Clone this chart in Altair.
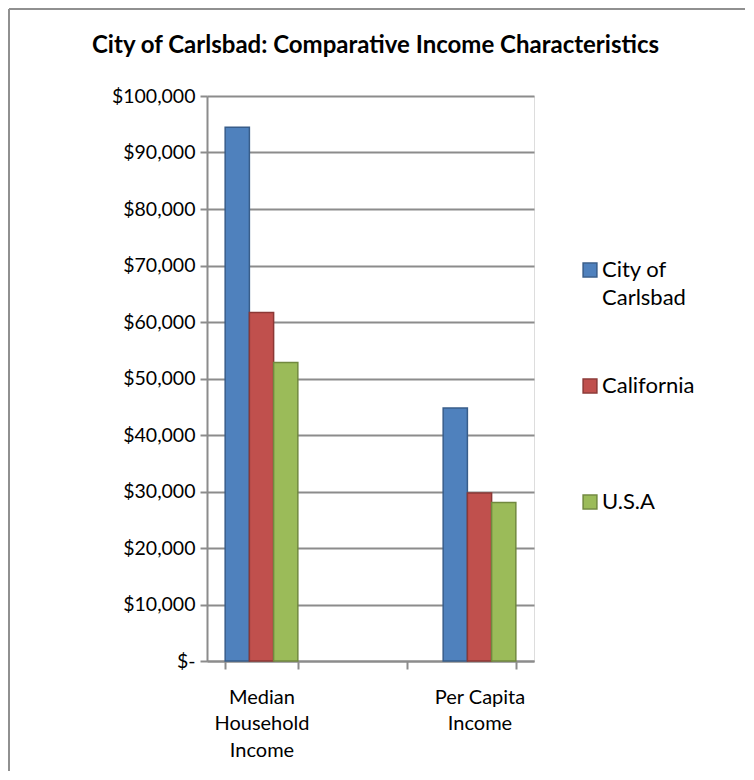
import altair as alt
import pandas as pd

# ---- data ----
title_text = "City of Carlsbad: Comparative Income Characteristics"
categories = ["Median|Household|Income", "Per Capita|Income"]
gap_category = " "
series = ["City of|Carlsbad", "California", "U.S.A"]
median_household = [94460, 61660, 52820]
per_capita = [44780, 29730, 28040]
fill_colors = ["#4f81bd", "#c0504d", "#9bbb59"]
edge_colors = ["#385d8a", "#8c3836", "#71893f"]
y_ticks = [0, 10000, 20000, 30000, 40000, 50000, 60000, 70000, 80000, 90000, 100000]

rows = []
for s, a, b in zip(series, median_household, per_capita):
    rows.append({"category": categories[0], "series": s, "value": a})
    rows.append({"category": categories[1], "series": s, "value": b})
df = pd.DataFrame(rows)

x_domain = [categories[0], gap_category, categories[1]]
FONT = "Lato"
GRAY = "#8c8c8c"

legend_spec = alt.Legend(
    title=None, orient="none", legendX=372, legendY=163,
    symbolType="square", symbolSize=190, symbolStrokeWidth=1.5,
    labelFont=FONT, labelFontSize=22, labelColor="black",
    labelOffset=1, labelLimit=300, labelBaseline="middle",
    labelExpr="split(datum.label, '|')", rowPadding=66, gridAlign="all",
)

bars = alt.Chart(df).mark_bar(strokeWidth=1.5).encode(
    x=alt.X("category:N",
            scale=alt.Scale(domain=x_domain, paddingInner=1/3, paddingOuter=1/6),
            axis=alt.Axis(title=None, labelAngle=0, labelExpr="split(datum.label, '|')",
                          tickBand="extent", grid=False, tickSize=8, tickWidth=2,
                          tickColor=GRAY, domainColor=GRAY, domainWidth=2,
                          labelFont=FONT, labelFontSize=20, labelColor="black",
                          labelPadding=18, labelBaseline="top", labelLineHeight=26.5)),
    xOffset=alt.XOffset("series:N", scale=alt.Scale(domain=series)),
    y=alt.Y("value:Q", scale=alt.Scale(domain=[0, 100000]),
            axis=alt.Axis(title=None, values=y_ticks,
                          labelExpr="datum.value == 0 ? '$-' : '$' + format(datum.value, ',')",
                          grid=True, gridColor=GRAY, gridWidth=2,
                          tickSize=7, tickWidth=2, tickColor=GRAY,
                          domainColor=GRAY, domainWidth=2,
                          labelFont=FONT, labelFontSize=19.5, labelColor="black",
                          labelPadding=5)),
    fill=alt.Fill("series:N", scale=alt.Scale(domain=series, range=fill_colors), legend=legend_spec),
    stroke=alt.Stroke("series:N", scale=alt.Scale(domain=series, range=edge_colors), legend=legend_spec),
)

frame_data = alt.Data(values=[{"f": 1}])
left_edge = alt.Chart(frame_data).mark_rule(color="#909090", strokeWidth=2).encode(
    x=alt.value(-198), y=alt.value(-87), y2=alt.value(675))
top_edge = alt.Chart(frame_data).mark_rule(color="#909090", strokeWidth=2).encode(
    x=alt.value(-198), x2=alt.value(538), y=alt.value(-87))

chart = alt.layer(bars, left_edge, top_edge).properties(
    width=327, height=565, padding=0,
    title=alt.TitleParams(text=title_text, font=FONT, fontSize=24, fontWeight="bold",
                          color="black", anchor="middle", baseline="alphabetic",
                          offset=-69, dx=5),
).configure_view(fill="#e6e6e6", stroke=None).configure(
    background="white", style={"guide-label": {"lineHeight": 28}})

chart.save("out.html", embed_options={"renderer": "svg", "actions": False})
